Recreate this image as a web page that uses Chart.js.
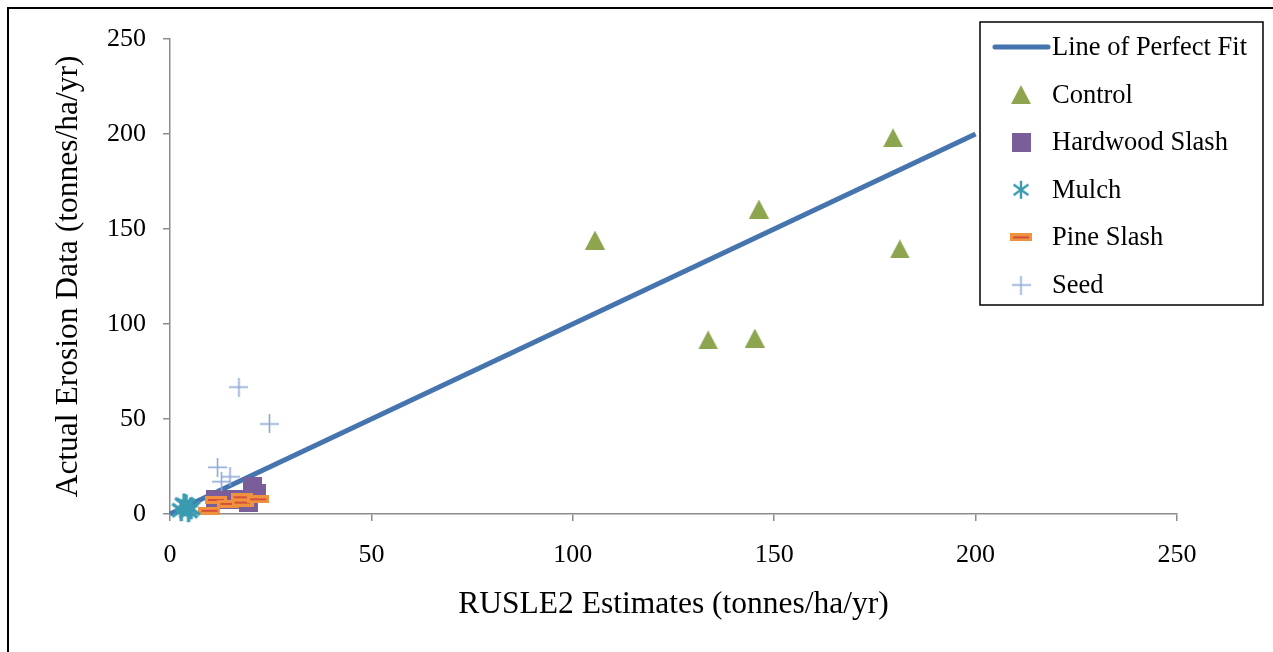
<!DOCTYPE html>
<html>
<head>
<meta charset="utf-8">
<script src="https://cdn.jsdelivr.net/npm/chart.js@4.4.1/dist/chart.umd.min.js"></script>
<style>
  body { margin: 0; background: #fff; overflow: hidden; }
  #wrap { position: relative; width: 1273px; height: 652px; }
  #frame { position: absolute; left: 7px; top: 7px; width: 1400px; height: 800px; border: 2px solid #000; }
  canvas { position: absolute; left: 0; top: 0; }
</style>
</head>
<body>
<div id="wrap">
  <div id="frame"></div>
  <canvas id="myChart" width="1273" height="652"></canvas>
</div>
<script>
// data (x = RUSLE2 estimate, y = actual erosion)
var fitLine = [[0, 0], [200, 200]];
var controlX = [105.5, 133.6, 145.2, 146.2, 179.5, 181.2];
var controlY = [144.2, 91.6, 92.6, 160.5, 198.0, 139.5];
var hardwoodX = [11.2, 16.1, 20.5, 21.5, 19.4];
var hardwoodY = [7.4, 7.4, 14.4, 11.0, 5.8];
var mulchX = [2.8, 4.0, 5.2, 3.5, 4.6];
var mulchY = [2.0, 4.5, 3.0, 5.0, 1.5];
var pineX = [9.8, 11.4, 14.5, 17.8, 18.0, 21.9];
var pineY = [1.7, 7.4, 5.3, 8.8, 6.0, 7.7];
var seedX = [17.1, 24.7, 11.8, 12.8, 14.9];
var seedY = [66.8, 47.4, 24.6, 17.0, 19.6];
var tickValues = [0, 50, 100, 150, 200, 250];

var names = ["Line of Perfect Fit", "Control", "Hardwood Slash", "Mulch", "Pine Slash", "Seed"];

function pts(xs, ys) {
    return xs.map(function (x, i) { return { x: x, y: ys[i] }; });
}

// marker images
function makeMarker(w, h, draw) {
    var c = document.createElement("canvas");
    c.width = w; c.height = h;
    draw(c.getContext("2d"), w, h);
    return c;
}
var triMark = makeMarker(20, 19, function (g, w, h) {
    g.fillStyle = "#8ca54e";
    g.beginPath(); g.moveTo(w / 2, 0); g.lineTo(w, h); g.lineTo(0, h); g.closePath(); g.fill();
});
var sqMark = makeMarker(19, 19, function (g, w, h) {
    g.fillStyle = "#7a5e9a";
    g.fillRect(0, 0, w, h);
});
function starDraw(r, lw) {
    return function (g, w, h) {
        g.strokeStyle = "#3b9bb1"; g.lineWidth = lw;
        var cx = w / 2, cy = h / 2;
        [90, 35, 145].forEach(function (a) {
            var t = a * Math.PI / 180;
            g.beginPath();
            g.moveTo(cx - Math.cos(t) * r, cy - Math.sin(t) * r);
            g.lineTo(cx + Math.cos(t) * r, cy + Math.sin(t) * r);
            g.stroke();
        });
    };
}
var starMark = makeMarker(26, 26, starDraw(11, 3.4));
var starLegend = makeMarker(20, 20, starDraw(9, 2.4));
var dashMark = makeMarker(22, 8, function (g, w, h) {
    g.fillStyle = "#f0913f";
    g.fillRect(0, 0, w, h);
    g.fillStyle = "#d2503a";
    g.fillRect(3, 3, w - 6, 2);
});
var plusMark = makeMarker(19, 19, function (g, w, h) {
    g.strokeStyle = "#8ea9d6"; g.lineWidth = 1.6;
    g.beginPath(); g.moveTo(w / 2, 0); g.lineTo(w / 2, h); g.stroke();
    g.beginPath(); g.moveTo(0, h / 2); g.lineTo(w, h / 2); g.stroke();
});

var legendMarks = [null, triMark, sqMark, starLegend, dashMark, plusMark];

var legendBox = {
    id: "legendBox",
    afterDraw: function (chart) {
        var g = chart.ctx;
        var x0 = 980, y0 = 22, w = 283, h = 283;
        g.save();
        g.fillStyle = "#fff";
        g.fillRect(x0, y0, w, h);
        g.strokeStyle = "#000"; g.lineWidth = 1.5;
        g.strokeRect(x0, y0, w, h);
        g.font = "26.5px 'Liberation Serif'";
        g.fillStyle = "#000";
        g.textBaseline = "middle";
        for (var i = 0; i < names.length; i++) {
            var cy = y0 + 25 + i * 47.6;
            if (i === 0) {
                g.strokeStyle = "#4674ae"; g.lineWidth = 5; g.lineCap = "round";
                g.beginPath(); g.moveTo(995, cy); g.lineTo(1048, cy); g.stroke();
            } else {
                var m = legendMarks[i];
                g.drawImage(m, 1021 - m.width / 2, cy - m.height / 2);
            }
            g.fillText(names[i], 1052, cy + 1);
        }
        g.restore();
    }
};

var axisColor = "#8c8c8c";

new Chart("myChart", {
    type: "scatter",
    data: {
        datasets: [
            {
                label: names[0], type: "line",
                data: fitLine.map(function (p) { return { x: p[0], y: p[1] }; }),
                borderColor: "#4674ae", borderWidth: 5, pointRadius: 0, fill: false, order: 5, clip: false
            },
            { label: names[1], data: pts(controlX, controlY), pointStyle: triMark, order: 1, clip: false },
            { label: names[2], data: pts(hardwoodX, hardwoodY), pointStyle: sqMark, order: 4, clip: false },
            { label: names[3], data: pts(mulchX, mulchY), pointStyle: starMark, order: 0, clip: false },
            { label: names[4], data: pts(pineX, pineY), pointStyle: dashMark, order: 3, clip: false },
            { label: names[5], data: pts(seedX, seedY), pointStyle: plusMark, order: 2, clip: false }
        ]
    },
    options: {
        responsive: false,
        animation: false,
        events: [],
        layout: { padding: { left: 8, top: 39, right: 96, bottom: 0 } },
        plugins: { legend: { display: false }, tooltip: { enabled: false } },
        scales: {
            x: {
                type: "linear", min: 0, max: 250,
                afterBuildTicks: function (s) { s.ticks = tickValues.map(function (v) { return { value: v }; }); },
                afterFit: function (s) { s.height = 138; },
                grid: { drawOnChartArea: false, color: axisColor, tickLength: 7, lineWidth: 1.5 },
                border: { color: axisColor, width: 1.5 },
                ticks: { color: "#000", padding: 19, font: { family: "'Liberation Serif'", size: 26 } },
                title: {
                    display: true, text: "RUSLE2 Estimates (tonnes/ha/yr)", color: "#000",
                    font: { family: "'Liberation Serif'", size: 31.5 }, padding: { top: 0, bottom: 28 }
                }
            },
            y: {
                type: "linear", min: 0, max: 250,
                afterBuildTicks: function (s) { s.ticks = tickValues.map(function (v) { return { value: v }; }); },
                afterFit: function (s) { s.width = 162; },
                grid: { drawOnChartArea: false, color: axisColor, tickLength: 7, lineWidth: 1.5 },
                border: { color: axisColor, width: 1.5 },
                ticks: { color: "#000", padding: 17, font: { family: "'Liberation Serif'", size: 26 } },
                title: {
                    display: true, text: "Actual Erosion Data (tonnes/ha/yr)", color: "#000",
                    font: { family: "'Liberation Serif'", size: 31.5 }, padding: { top: 42, bottom: 0 }
                }
            }
        }
    },
    plugins: [legendBox]
});
</script>
</body>
</html>
